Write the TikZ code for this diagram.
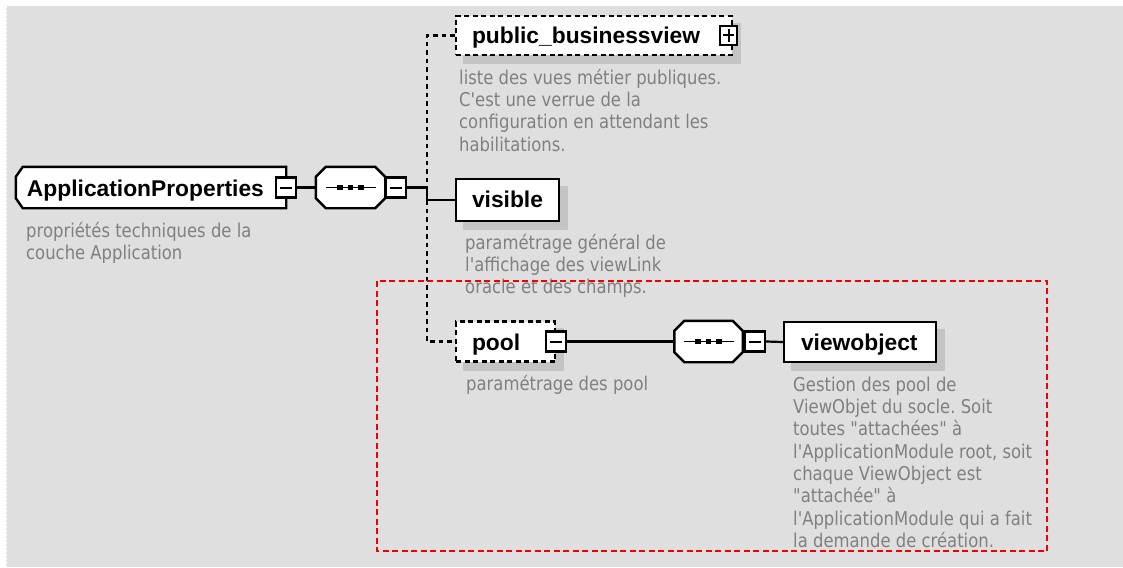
\documentclass[tikz,border=0pt]{standalone}
\usepackage{fontspec}
\usetikzlibrary{calc}
\frenchspacing
\newfontfamily\lblfont{Liberation Sans}
\newfontfamily\descfont{DejaVu Sans}[FakeStretch=0.865]
\definecolor{bggray}{RGB}{223,223,223}
\definecolor{shadowgray}{RGB}{196,196,196}
\definecolor{descgray}{RGB}{128,128,128}
\definecolor{selred}{RGB}{240,0,0}
\pgfdeclarelayer{bgl}
\pgfdeclarelayer{shadowl}
\pgfsetlayers{bgl,shadowl,main}
\tikzset{
  boxline/.style={draw=black, line width=2.4pt},
  elbox/.style={boxline, fill=white, rectangle, inner sep=0pt},
  optbox/.style={elbox, dash pattern=on 5pt off 3.5pt},
  ghost/.style={rectangle, inner sep=0pt, draw=none},
  lbl/.style={font=\lblfont\bfseries\fontsize{22.8}{26}\selectfont, inner sep=0pt, anchor=base west},
  desc/.style={font=\descfont\fontsize{19}{22.3}\selectfont, text=descgray, inner sep=0pt, align=left, anchor=north west},
  conn/.style={line width=2.2pt, draw=black},
  dconn/.style={conn, dash pattern=on 4.5pt off 4pt},
  pmbox/.style={rectangle, draw=black, line width=2.2pt, fill=white, minimum width=20pt, minimum height=20pt, inner sep=0pt},
  minusbox/.style={pmbox, path picture={\draw[line width=2pt] ([xshift=4pt]path picture bounding box.west) -- ([xshift=-4pt]path picture bounding box.east);}},
  plusbox/.style={pmbox, minimum width=17pt, minimum height=19pt, path picture={\draw[line width=2pt] ([xshift=3pt]path picture bounding box.west) -- ([xshift=-3pt]path picture bounding box.east) ([yshift=3pt]path picture bounding box.south) -- ([yshift=-3pt]path picture bounding box.north);}},
  selbox/.style={draw=selred, line width=1.6pt, dash pattern=on 6pt off 3.5pt},
}
\newcommand\octpath[3]{($(#1.north west)+(#2,0)$) -- ($(#1.north east)+(-#2,0)$) -- ($(#1.north east)+(0,#3)$) -- ($(#1.south east)+(0,-#3)$) -- ($(#1.south east)+(-#2,0)$) -- ($(#1.south west)+(#2,0)$) -- ($(#1.south west)+(0,-#3)$) -- ($(#1.north west)+(0,#3)$) -- cycle}
\newcommand\leftchampath[3]{(#1.north east) -- (#1.south east) -- ($(#1.south west)+(#2,0)$) -- ($(#1.south west)+(0,-#3)$) -- ($(#1.north west)+(0,#3)$) -- ($(#1.north west)+(#2,0)$) -- cycle}
\newcommand\seqmark[1]{%
  \draw[line width=1.6pt] ($(#1.center)+(-25,0)$) -- ($(#1.center)+(25,0)$);
  \foreach \dx in {-10.5,0,10.5} {\fill ($(#1.center)+(\dx-2.6,-2.6)$) rectangle +(5.2,5.2);}
}
\begin{document}
\begin{tikzpicture}[x=1pt, y=-1pt]
\useasboundingbox (0,0) rectangle (1123,567);
\begin{pgfonlayer}{bgl}
  \fill[white] (0,0) rectangle (1123,567);
  \fill[bggray] (6,6) rectangle (1123,567);
  \draw[white, line width=1pt, dash pattern=on 2pt off 2pt] (6,6) -- (1123,6);
  \draw[white, line width=1pt, dash pattern=on 2pt off 2pt] (6,6) -- (6,567);
\end{pgfonlayer}

% ---- nodes (shapes) ----
\node[ghost, minimum width=270pt, minimum height=41pt] (app) at (151,187.5) {};
\draw[boxline, fill=white] \leftchampath{app}{7}{10};
\node[ghost, minimum width=69pt, minimum height=41pt] (seq1) at (350.5,187.5) {};
\draw[boxline, fill=white] \octpath{seq1}{10}{10};
\seqmark{seq1}
\node[ghost, minimum width=68pt, minimum height=41pt] (seq2) at (708.5,341.5) {};
\draw[boxline, fill=white] \octpath{seq2}{10}{10};
\seqmark{seq2}

\node[optbox, minimum width=276pt, minimum height=39pt] (pbv) at (594,35.5) {};
\node[elbox, minimum width=103pt, minimum height=42pt] (vis) at (507.5,200) {};
\node[optbox, minimum width=99pt, minimum height=40pt] (pool) at (505.5,341.5) {};
\node[elbox, minimum width=152pt, minimum height=40pt] (vo) at (860,342) {};

% shadows
\begin{pgfonlayer}{shadowl}
  \begin{scope}[shift={(8,6)}]
    \fill[shadowgray] \leftchampath{app}{7}{10};
    \fill[shadowgray] \octpath{seq1}{10}{10};
    \fill[shadowgray] \octpath{seq2}{10}{10};
  \end{scope}
  \foreach \n in {pbv,vis,pool,vo} {
    \fill[shadowgray] ($(\n.north west)+(8,8)$) rectangle ($(\n.south east)+(8,8)$);
  }
\end{pgfonlayer}

% expand / collapse boxes
\node[minusbox] (appm) at (app.east) {};
\node[minusbox, anchor=west] (seq1m) at (seq1.east) {};
\node[minusbox] (poolm) at (pool.east) {};
\node[minusbox, anchor=west] (seq2m) at ($(seq2.east)+(1,0)$) {};
\node[plusbox] (pbvp) at ($(pbv.east)+(-4.5,0)$) {};

% labels
\node[lbl] (appt) at ($(app.west)+(11,9)$) {ApplicationProperties};
\node[lbl] (pbvt) at ($(pbv.west)+(17,8)$) {public\_businessview};
\node[lbl] (vist) at ($(vis.west)+(17,7.5)$) {visible};
\node[lbl] (poolt) at ($(pool.west)+(17,8.5)$) {pool};
\node[lbl] (vot) at ($(vo.west)+(18,8)$) {viewobject};

% descriptions
\node[desc] (appd) at (26,221.4) {\strut propriétés techniques de la\\couche Application};
\node[desc] (pbvd) at (459,68.4) {\strut liste des vues métier publiques.\\C'est une verrue de la\\configuration en attendant les\\habilitations.};
\node[desc] (visd) at (465,233.4) {\strut paramétrage général de\\l'affichage des viewLink\\oracle et des champs.};
\node[desc] (poold) at (466,374.4) {\strut paramétrage des pool};
\node[desc] (vod) at (793,375.4) {\strut Gestion des pool de\\ViewObjet du socle. Soit\\toutes "attachées" à\\l'ApplicationModule root, soit\\chaque ViewObject est\\"attachée" à\\l'ApplicationModule qui a fait\\la demande de création.};

% connectors
\coordinate (j) at (427,187.5);
\draw[conn] (appm.east) -- (seq1.west);
\draw[conn] (seq1m.east) -- (j);
\draw[dconn] (pbv.west) -- (pbv.west -| j) -- (j);
\draw[conn] (j) -- (j |- vis.west) -- (vis.west);
\draw[dconn] (j |- vis.west) -- (j |- pool.west) -- (pool.west);
\draw[conn] (poolm.east) -- (seq2.west);
\draw[conn] (seq2m.east) -- (vo.west);

% selection frame
\draw[selbox] (377,281) rectangle (1047,551);
\end{tikzpicture}
\end{document}
